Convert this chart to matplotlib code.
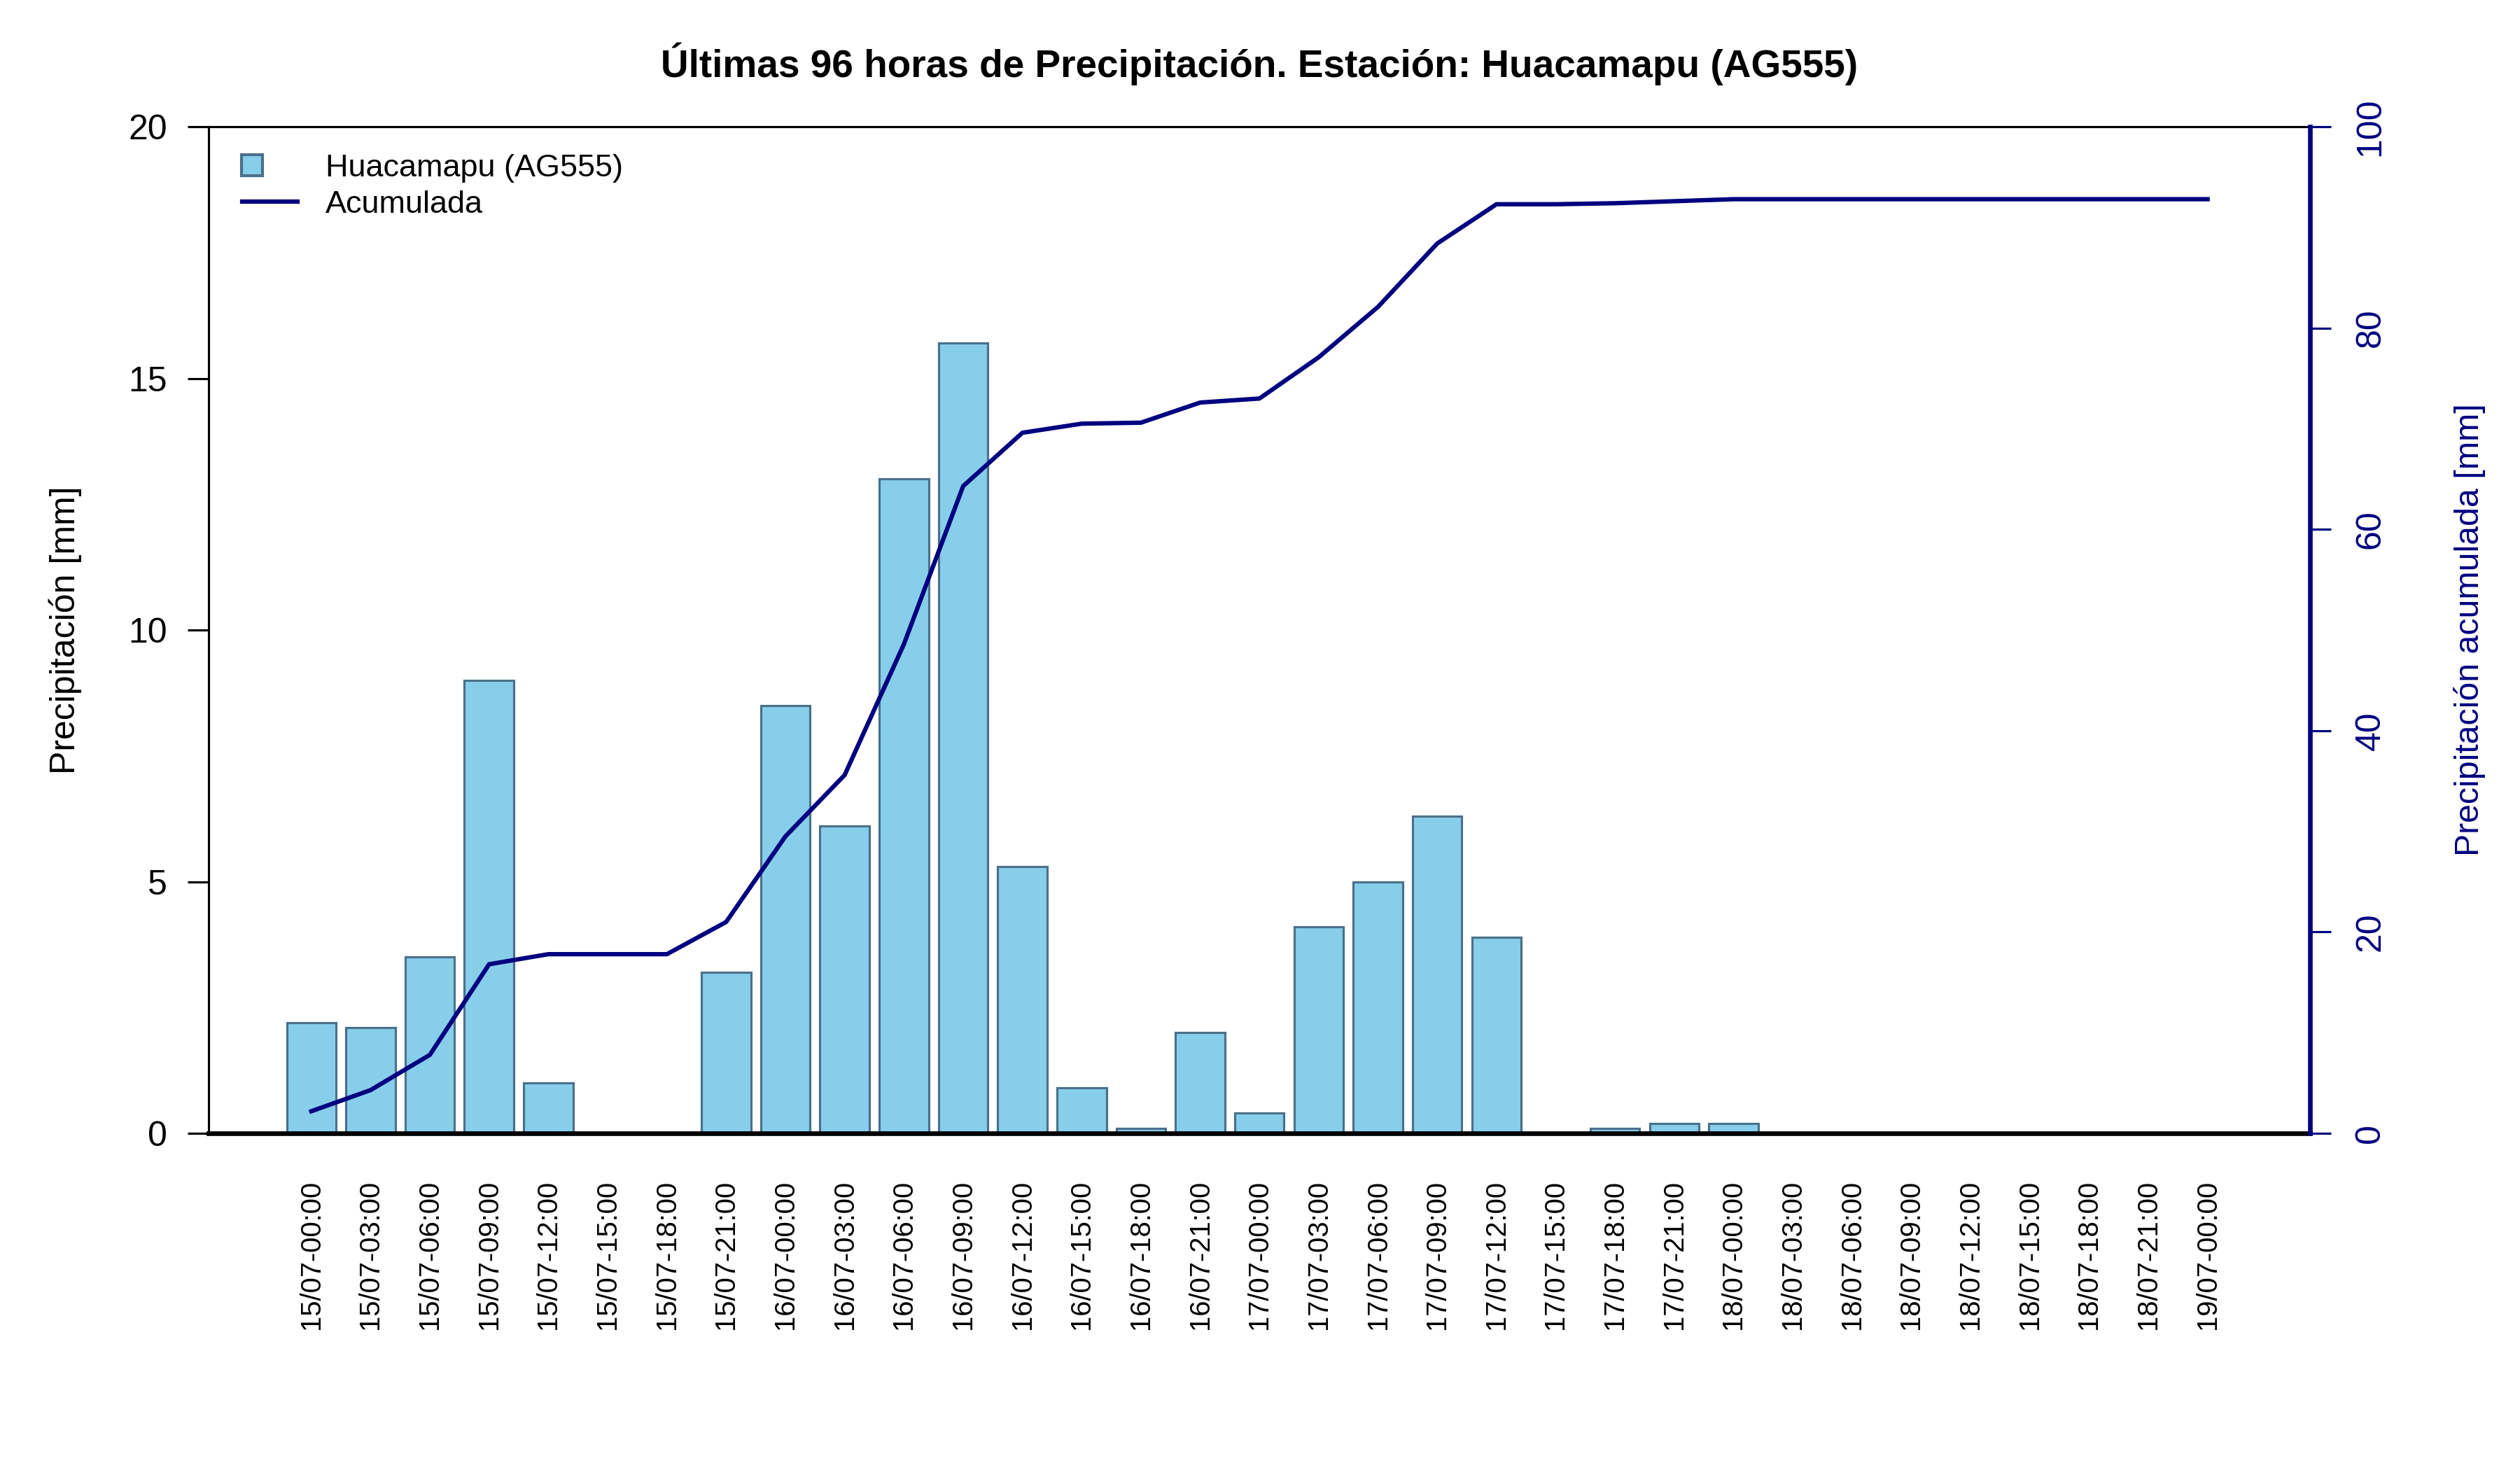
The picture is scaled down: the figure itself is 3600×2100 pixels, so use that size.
import numpy as np
import matplotlib
matplotlib.use("Agg")
import matplotlib.pyplot as plt
from matplotlib.lines import Line2D
from matplotlib.legend_handler import HandlerLine2D

plt.rcParams['font.family'] = ['Liberation Sans', 'DejaVu Sans']

# 3-hourly timestamps
horas = ['15/07-00:00', '15/07-03:00', '15/07-06:00', '15/07-09:00',
         '15/07-12:00', '15/07-15:00', '15/07-18:00', '15/07-21:00',
         '16/07-00:00', '16/07-03:00', '16/07-06:00', '16/07-09:00',
         '16/07-12:00', '16/07-15:00', '16/07-18:00', '16/07-21:00',
         '17/07-00:00', '17/07-03:00', '17/07-06:00', '17/07-09:00',
         '17/07-12:00', '17/07-15:00', '17/07-18:00', '17/07-21:00',
         '18/07-00:00', '18/07-03:00', '18/07-06:00', '18/07-09:00',
         '18/07-12:00', '18/07-15:00', '18/07-18:00', '18/07-21:00',
         '19/07-00:00']

# precipitation per interval [mm]
precipitacion = [2.2, 2.1, 3.5, 9.0, 1.0, 0.0, 0.0, 3.2,
                 8.5, 6.1, 13.0, 15.7, 5.3, 0.9, 0.1, 2.0,
                 0.4, 4.1, 5.0, 6.3, 3.9, 0.0, 0.1, 0.2,
                 0.2, 0.0, 0.0, 0.0, 0.0, 0.0, 0.0, 0.0,
                 0.0]

# accumulated precipitation [mm]
acumulada = [2.2, 4.3, 7.8, 16.8, 17.8, 17.8, 17.8, 21.0,
             29.5, 35.6, 48.6, 64.3, 69.6, 70.5, 70.6, 72.6,
             73.0, 77.1, 82.1, 88.4, 92.3, 92.3, 92.4, 92.6,
             92.8, 92.8, 92.8, 92.8, 92.8, 92.8, 92.8, 92.8,
             92.8]

estacion = 'Huacamapu (AG555)'
azul = '#87CEEB'
borde = '#4A708B'
navy = '#000080'


class HandlerLeftMarker(HandlerLine2D):
    # keep only the left marker, like R's legend
    def get_xdata(self, legend, xdescent, ydescent, width, height, fontsize):
        xdata, xdata_marker = super().get_xdata(legend, xdescent, ydescent,
                                                width, height, fontsize)
        return xdata[:1], xdata_marker[:1]


fig = plt.figure(figsize=(12, 7), dpi=300)
ax = fig.add_axes([0.0828, 0.229, 0.8339, 0.6848])

x = np.arange(len(horas))
ax.bar(x, precipitacion, width=0.833, color=azul, edgecolor=borde, linewidth=0.75)
ax.set_xlim(-1.733, 33.73)
ax.set_ylim(0, 20)
ax.set_yticks([0, 5, 10, 15, 20])
ax.tick_params(axis='y', length=7.2, width=0.75, pad=7, labelsize=12)
ax.set_xticks(x)
ax.set_xticklabels(horas, rotation=90, fontsize=9.6)
ax.tick_params(axis='x', length=0, pad=16)
ax.set_ylabel('Precipitación [mm]', fontsize=12, labelpad=16)

for s in ['top', 'left']:
    ax.spines[s].set_linewidth(0.75)
ax.spines['bottom'].set_linewidth(1.6)
ax.spines['right'].set_visible(False)

ax2 = ax.twinx()
ax2.plot(x, acumulada, color=navy, lw=1.5)
ax2.set_ylim(0, 100)
ax2.set_yticks([0, 20, 40, 60, 80, 100])
for s in ['top', 'left', 'bottom']:
    ax2.spines[s].set_visible(False)
ax2.spines['right'].set_color(navy)
ax2.spines['right'].set_linewidth(1.6)
ax2.tick_params(axis='y', colors=navy, length=7.2, width=0.75, pad=8,
                labelsize=12, labelrotation=90)
for t in ax2.get_yticklabels():
    t.set_va('center')
ax2.set_ylabel('Precipitación acumulada [mm]', fontsize=11.6, color=navy, labelpad=23)

ax.set_title('Últimas 96 horas de Precipitación. Estación: ' + estacion,
             fontsize=13.2, fontweight='bold', pad=17)

h_barra = Line2D([], [], marker='s', linestyle='none', markersize=7,
                 markerfacecolor=azul, markeredgecolor=borde, markeredgewidth=1.0)
h_linea = Line2D([], [], color=navy, lw=1.5)
ax2.legend([h_barra, h_linea], [estacion, 'Acumulada'], loc='upper left',
           bbox_to_anchor=(0.016, 0.973), frameon=False, fontsize=10.8,
           handlelength=1.75, handletextpad=0.9, borderpad=0, borderaxespad=0,
           labelspacing=0.25,
           handler_map={h_barra: HandlerLeftMarker(numpoints=2)})

fig.savefig('out.png', dpi=300)
